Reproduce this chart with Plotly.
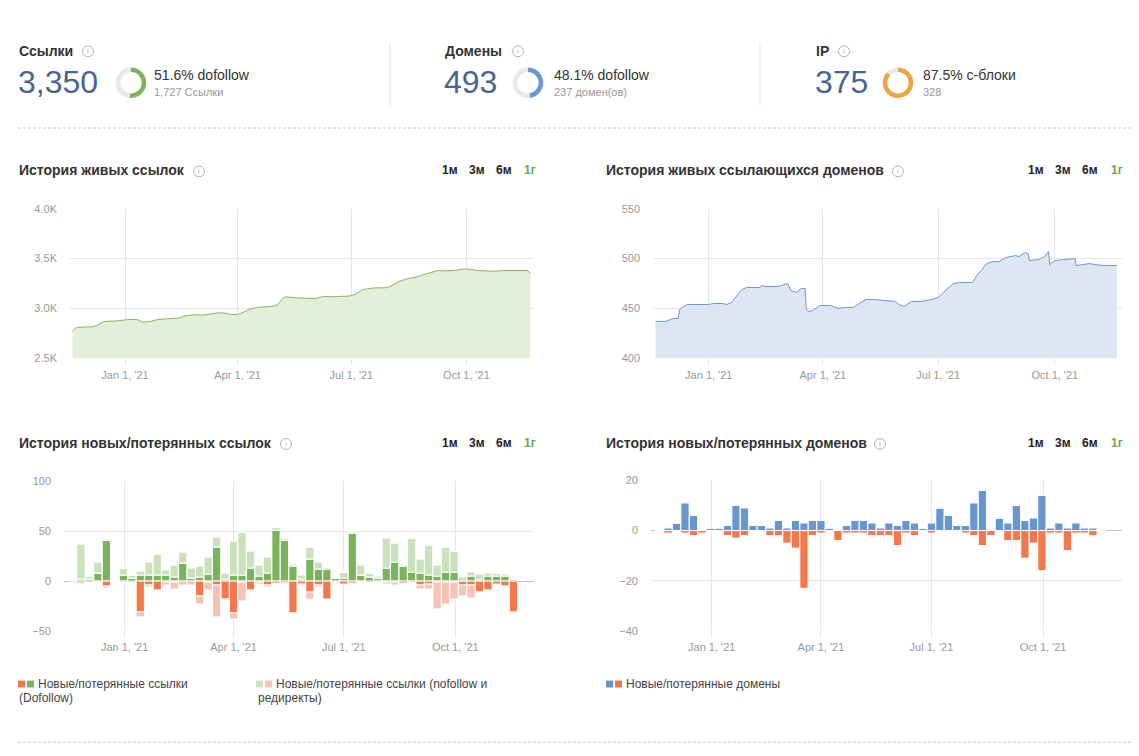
import plotly.graph_objects as go
import pandas as pd

W, H = 1139, 756


def px(x):
    return x / W


def py(y):
    return 1 - y / H


FONT = "Liberation Sans, Arial, Helvetica, sans-serif"

# ---------------- data ----------------
links_dates = ["2020-11-20", "2020-11-22", "2020-11-24", "2020-12-06", "2020-12-09", "2020-12-15",
               "2020-12-18", "2020-12-26", "2021-01-01", "2021-01-09", "2021-01-12", "2021-01-15",
               "2021-01-21", "2021-01-27", "2021-02-02", "2021-02-13", "2021-02-19", "2021-02-26",
               "2021-03-05", "2021-03-16", "2021-03-22", "2021-03-27", "2021-04-01", "2021-04-06",
               "2021-04-11", "2021-04-17", "2021-04-29", "2021-05-03", "2021-05-07", "2021-05-10",
               "2021-05-16", "2021-05-30", "2021-06-02", "2021-06-09", "2021-06-16", "2021-06-29",
               "2021-07-04", "2021-07-10", "2021-07-18", "2021-07-30", "2021-08-08", "2021-08-16",
               "2021-08-22", "2021-08-28", "2021-09-03", "2021-09-08", "2021-09-14", "2021-09-23",
               "2021-09-28", "2021-10-04", "2021-10-10", "2021-10-19", "2021-10-24", "2021-10-30",
               "2021-11-19", "2021-11-21"]
links_values = [2770, 2800, 2810, 2817, 2827, 2866, 2872, 2875, 2885, 2892, 2882, 2862, 2869, 2888,
                2895, 2904, 2927, 2937, 2934, 2956, 2953, 2940, 2940, 2963, 2995, 3011, 3021, 3037,
                3099, 3118, 3108, 3102, 3099, 3121, 3118, 3124, 3141, 3189, 3205, 3209, 3270, 3302,
                3315, 3341, 3361, 3380, 3377, 3383, 3396, 3393, 3380, 3377, 3374, 3380, 3380, 3350]

domains_dates = ["2020-11-20", "2020-11-28", "2020-12-02", "2020-12-04", "2020-12-08", "2020-12-09",
                 "2020-12-11", "2020-12-15", "2020-12-21", "2021-01-01", "2021-01-05", "2021-01-12",
                 "2021-01-15", "2021-01-19", "2021-01-24", "2021-01-27", "2021-01-31", "2021-02-10",
                 "2021-02-12", "2021-02-15", "2021-02-25", "2021-03-02", "2021-03-04", "2021-03-07",
                 "2021-03-11", "2021-03-15", "2021-03-18", "2021-03-19", "2021-03-21", "2021-03-24",
                 "2021-03-30", "2021-04-07", "2021-04-13", "2021-04-18", "2021-04-25", "2021-05-01",
                 "2021-05-05", "2021-05-11", "2021-05-20", "2021-05-28", "2021-05-31", "2021-06-04",
                 "2021-06-10", "2021-06-17", "2021-06-26", "2021-07-01", "2021-07-05", "2021-07-13",
                 "2021-07-18", "2021-07-28", "2021-08-01", "2021-08-04", "2021-08-08", "2021-08-13",
                 "2021-08-18", "2021-08-23", "2021-08-31", "2021-09-03", "2021-09-07", "2021-09-10",
                 "2021-09-11", "2021-09-18", "2021-09-23", "2021-09-26", "2021-09-27", "2021-10-01",
                 "2021-10-08", "2021-10-17", "2021-10-18", "2021-10-28", "2021-11-08", "2021-11-19"]
domains_values = [437, 437, 439, 440, 440, 449, 451, 454, 454, 454, 455, 455, 454, 456, 464, 469,
                  471, 471, 473, 472, 472, 474, 475, 468, 466, 470, 470, 449, 447, 448, 453, 453,
                  450, 451, 451, 456, 459, 459, 458, 457, 454, 452, 457, 457, 459, 461, 466, 475,
                  476, 476, 484, 488, 495, 497, 497, 501, 503, 502, 506, 505, 498, 499, 502, 507,
                  494, 498, 499, 500, 493, 495, 493, 493]

week_start = "2020-11-19"
n_weeks = 53
weeks = pd.date_range(week_start, periods=n_weeks, freq="7D")

dofollow_new = [1, 2, 2, 8, 41, 0, 6, 3, 6, 6, 6, 6, 4, 18, 3, 4, 7, 34, 2, 6, 6, 13, 5, 8, 51, 41,
                15, 2, 22, 12, 12, 3, 3, 48, 6, 4, 3, 13, 19, 15, 9, 8, 6, 5, 9, 9, 0, 5, 1, 5, 5, 5, 2]
nofollow_new = [0, 35, 3, 11, 1, 0, 7, 3, 4, 13, 21, 5, 12, 11, 10, 11, 17, 10, 6, 34, 43, 17, 11,
                16, 3, 2, 2, 4, 12, 7, 2, 0, 6, 2, 10, 4, 2, 30, 19, 2, 34, 14, 30, 11, 25, 21, 4, 4,
                6, 3, 3, 2, 0]
dofollow_lost = [0, -2, 0, 0, -5, -1, -1, 0, -31, -4, -9, -1, -1, 0, 0, -15, -1, -4, -18, -32, -1,
                 -9, -1, -4, -2, -2, -32, -3, -11, -4, -18, -1, -3, -2, 0, 0, 0, -1, -1, -2, -1, -4,
                 -3, -1, -1, -1, -4, -4, -11, -9, -3, -5, -31]
nofollow_lost = [0, -1, 0, -1, -2, 0, 0, 0, -5, -2, -1, -3, -7, -4, -4, -8, -8, -32, -1, -6, -19, -1,
                 -2, -2, 0, -1, -1, -1, -7, -2, 0, 0, 0, 0, -1, 0, -1, -2, -3, 0, 0, -4, -5, -27,
                 -22, -17, -11, -13, -1, -1, 0, -1, -1]

domains_new = [0, 1, 3, 11, 6, 0, 1, 1, 2, 10, 9, 2, 2, 1, 4, 1, 4, 3, 4, 4, 1, 0, 2, 4, 4, 3, 1,
               3, 2, 4, 3, 1, 3, 9, 6, 2, 2, 11, 16, 0, 5, 3, 10, 4, 5, 14, 1, 3, 1, 3, 1, 1, 0]
domains_lost = [0, -1, 0, -1, -2, -1, 0, 0, -2, -3, -2, 0, 0, -2, -2, -5, -7, -23, -2, -1, 0, -4,
                -1, -1, -1, -2, -2, -2, -6, -1, -2, 0, -1, 0, 0, 0, -1, -2, -6, -2, 0, -4, -4, -11,
                -5, -16, -1, -1, -8, -1, -1, -2, 0]

tick_dates = ["2021-01-01", "2021-04-01", "2021-07-01", "2021-10-01"]
tick_text = ["Jan 1, '21", "Apr 1, '21", "Jul 1, '21", "Oct 1, '21"]

links_ticks = [2500, 3000, 3500, 4000]
links_ticktext = ["2.5K", "3.0K", "3.5K", "4.0K"]
domains_ticks = [400, 450, 500, 550]
newlost_links_ticks = [-50, 0, 50, 100]
newlost_domains_ticks = [-40, -20, 0, 20]

# colors
GREEN_LINE = "#80b862"
GREEN_FILL = "#e3efd9"
BLUE_LINE = "#6f96cb"
BLUE_FILL = "#dde7f4"
DG = "#79b45d"
LG = "#c9e2bc"
DR = "#f4784b"
LR = "#f8c3b4"
BLUE = "#6897d0"
NUM = "#4a6491"

fig = go.Figure()

fig.add_trace(go.Scatter(x=links_dates, y=links_values, mode="lines",
                         line=dict(color=GREEN_LINE, width=1), fill="tozeroy",
                         fillcolor=GREEN_FILL, xaxis="x", yaxis="y", hoverinfo="skip",
                         showlegend=False))
fig.add_trace(go.Scatter(x=domains_dates, y=domains_values, mode="lines",
                         line=dict(color=BLUE_LINE, width=1), fill="tozeroy",
                         fillcolor=BLUE_FILL, xaxis="x2", yaxis="y2", hoverinfo="skip",
                         showlegend=False))

bar_w = 6.8 * 86400000
for vals, col in [(dofollow_new, DG), (dofollow_lost, DR), (nofollow_new, LG), (nofollow_lost, LR)]:
    fig.add_trace(go.Bar(x=weeks, y=vals, width=bar_w, marker=dict(color=col, line=dict(color="white", width=1)),
                         xaxis="x3", yaxis="y3", hoverinfo="skip", showlegend=False))
for vals, col in [(domains_new, BLUE), (domains_lost, DR)]:
    fig.add_trace(go.Bar(x=weeks, y=vals, width=bar_w, marker=dict(color=col, line=dict(color="white", width=1)),
                         xaxis="x4", yaxis="y4", hoverinfo="skip", showlegend=False))

# donuts
donuts = [
    (131, 78, 51.6, "#7ab55c"),
    (528, 78, 48.1, "#6a98d2"),
    (898, 78, 87.5, "#eea440"),
]
for cx, cy, pct, col in donuts:
    r = 15.5
    fig.add_trace(go.Pie(values=[pct, 100 - pct], marker=dict(colors=[col, "#e8e8e8"]),
                         hole=0.7, sort=False, direction="clockwise", rotation=0,
                         textinfo="none", hoverinfo="skip", showlegend=False,
                         domain=dict(x=[px(cx - r), px(cx + r)], y=[py(cy + r), py(cy - r)])))

axis_font = dict(family=FONT, size=11, color="#999999")
GRID = "#e6e6e6"


def xax(d, rng):
    return dict(domain=d, range=rng, type="date", tickvals=tick_dates, ticktext=tick_text,
                showgrid=True, gridcolor=GRID, gridwidth=1, zeroline=False, showline=False,
                ticks="outside", ticklen=6, tickcolor=GRID, tickfont=axis_font, fixedrange=True)


def yax(d, rng, tv, tt=None, zero=False):
    a = dict(domain=d, range=rng, tickvals=tv, showgrid=True, gridcolor=GRID, gridwidth=1,
             zeroline=zero, zerolinecolor="#c4c4c4", zerolinewidth=1, showline=False, ticks="",
             tickfont=axis_font, ticklabelstandoff=12, fixedrange=True)
    if tt is not None:
        a["ticktext"] = tt
    return a


fig.update_layout(
    width=W, height=H, margin=dict(l=0, r=0, t=0, b=0), paper_bgcolor="white",
    plot_bgcolor="white", barmode="relative", hovermode=False, showlegend=False,
    font=dict(family=FONT, color="#333333"),
    xaxis=xax([px(70), px(534)], ["2020-11-18", "2021-11-24"]),
    yaxis=yax([py(358), py(206)], [2500, 4000], links_ticks, links_ticktext),
    xaxis2=xax([px(653), px(1122)], ["2020-11-18", "2021-11-23"]),
    yaxis2=yax([py(358), py(206)], [400, 550], domains_ticks),
    xaxis3=xax([px(64), px(534)], ["2020-11-12", "2021-12-05"]),
    yaxis3=yax([py(635), py(483)], [-50, 100], newlost_links_ticks, zero=True),
    xaxis4=xax([px(651), px(1122)], ["2020-11-12", "2021-12-05"]),
    yaxis4=yax([py(635), py(482)], [-40, 20], newlost_domains_ticks, zero=True),
)
fig.layout.xaxis.anchor = "y"
fig.layout.yaxis.anchor = "x"
fig.layout.xaxis2.anchor = "y2"
fig.layout.yaxis2.anchor = "x2"
fig.layout.xaxis3.anchor = "y3"
fig.layout.yaxis3.anchor = "x3"
fig.layout.xaxis4.anchor = "y4"
fig.layout.yaxis4.anchor = "x4"

ann = []
shapes = []


def text(x, y, s, size=12, color="#333333", bold=False, anchor="left"):
    if bold:
        s = "<b>" + s + "</b>"
    ann.append(dict(x=px(x), y=py(y), xref="paper", yref="paper", text=s, showarrow=False,
                    xanchor=anchor, yanchor="middle", font=dict(family=FONT, size=size, color=color),
                    borderpad=0))


def info(x, y):
    r = 5.5
    shapes.append(dict(type="circle", xref="paper", yref="paper", x0=px(x - r), x1=px(x + r),
                       y0=py(y + r), y1=py(y - r), line=dict(color="#b5b5b5", width=1)))
    text(x, y + 0.5, "i", size=8, color="#b5b5b5", anchor="center")


# header
headers = [
    (18, "Ссылки", 88, "3,350", "51.6% dofollow", "1,727 Ссылки", 153),
    (444, "Домены", 518, "493", "48.1% dofollow", "237 домен(ов)", 553),
    (815, "IP", 844, "375", "87.5% c-блоки", "328", 922),
]
for x0, title, ix, num, pct, sub, tx in headers:
    text(x0, 46, title, size=14, bold=True, color="#333333")
    info(ix, 46)
    text(x0 - 1, 77, num, size=32, color=NUM)
    text(tx, 70, pct, size=14, color="#333333")
    text(tx, 87, sub, size=11, color="#999999")

for sx in [390, 760]:
    shapes.append(dict(type="line", xref="paper", yref="paper", x0=px(sx), x1=px(sx),
                       y0=py(38), y1=py(102), line=dict(color="#e3e3e3", width=1)))
for sy in [124, 748]:
    shapes.append(dict(type="line", xref="paper", yref="paper", x0=px(18), x1=px(1132),
                       y0=py(sy), y1=py(sy), line=dict(color="#c8c8c8", width=1, dash="3px,2px")))

# chart titles
titles = [
    (18, 167, "История живых ссылок", 199, 0),
    (605, 167, "История живых ссылающихся доменов", 898, 1),
    (18, 444, "История новых/потерянных ссылок", 286, 0),
    (605, 444, "История новых/потерянных доменов", 880, 1),
]
for x, y, t, ix, side in titles:
    text(x, y, t, size=14, bold=True, color="#333333")
    info(ix, y + 1)
    base = [450, 477, 504, 530] if side == 0 else [1036, 1063, 1090, 1117]
    for bx, lab in zip(base, ["1м", "3м", "6м", "1г"]):
        text(bx, y, lab, size=12, bold=True, color="#6aa84f" if lab == "1г" else "#222222",
             anchor="center")

# legends


def sq(x, y, col):
    shapes.append(dict(type="rect", xref="paper", yref="paper", x0=px(x), x1=px(x + 7),
                       y0=py(y + 3.5), y1=py(y - 3.5), fillcolor=col, line=dict(width=0)))


sq(18, 689, DR)
sq(27, 689, DG)
text(37, 689, "Новые/потерянные ссылки", size=12, color="#444444")
text(18, 703, "(Dofollow)", size=12, color="#444444")
sq(256, 689, LG)
sq(265, 689, LR)
text(275, 689, "Новые/потерянные ссылки (nofollow и", size=12, color="#444444")
text(257, 703, "редиректы)", size=12, color="#444444")
sq(606, 689, BLUE)
sq(615, 689, DR)
text(625, 689, "Новые/потерянные домены", size=12, color="#444444")

fig.update_layout(annotations=ann, shapes=shapes)

fig.write_html("out.html", config={"displayModeBar": False})
